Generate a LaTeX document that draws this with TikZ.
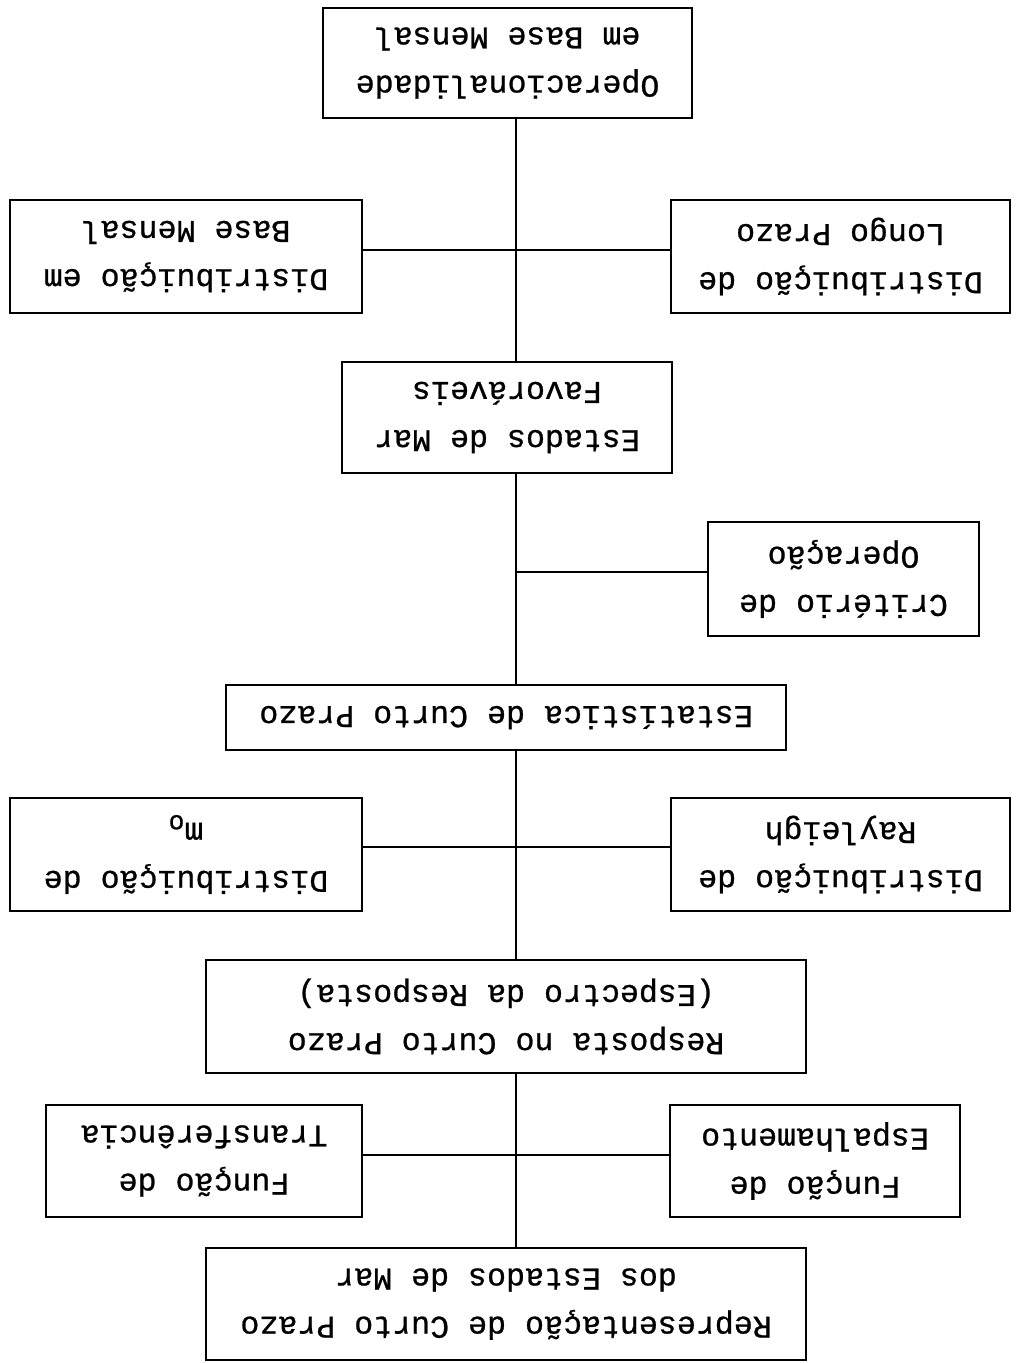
\documentclass[tikz,border=0pt]{standalone}
\usepackage{fontspec}
\newfontfamily\letra[FakeBold=0.8]{Liberation Mono}
\usepackage{tikz}

\newcommand{\indice}[1]{\raisebox{-0.45ex}{\fontsize{7.5}{8}\selectfont #1}}

\begin{document}
\begin{tikzpicture}[
    caixa/.style={draw, line width=0.7pt, rotate=180, align=center, inner sep=0pt,
      font=\letra\fontsize{9}{13.7}\selectfont},
    liga/.style={line width=0.6pt}]
        \useasboundingbox (0, 0) rectangle (10.2, -13.63);
        \coordinate (tronco) at (5.16, 0);

        % coluna central
        \node[caixa, minimum width=3.69cm, minimum height=1.10cm] (ops) at (5.075, -0.63)
          {Operacionalidade\\em Base Mensal};
        \node[caixa, minimum width=3.30cm, minimum height=1.11cm] (emf) at (5.07, -4.175)
          {Estados de Mar\\Favoráveis};
        \node[caixa, minimum width=5.60cm, minimum height=0.65cm] (ecp) at (5.06, -7.175)
          {Estatística de Curto Prazo};
        \node[caixa, minimum width=6.00cm, minimum height=1.13cm] (rcp) at (5.06, -10.165)
          {Resposta no Curto Prazo\\(Espectro da Resposta)};
        \node[caixa, minimum width=6.00cm, minimum height=1.12cm] (rep) at (5.06, -13.04)
          {Representação de Curto Prazo\\dos Estados de Mar};

        % caixas laterais
        \node[caixa, minimum width=3.52cm, minimum height=1.13cm] (dbm) at (1.86, -2.565)
          {Distribuição em\\Base Mensal};
        \node[caixa, minimum width=3.39cm, minimum height=1.13cm] (dlp) at (8.405, -2.565)
          {Distribuição de\\Longo Prazo};
        \node[caixa, minimum width=2.71cm, minimum height=1.14cm] (crit) at (8.435, -5.79)
          {Critério de\\Operação};
        \node[caixa, minimum width=3.52cm, minimum height=1.13cm] (dmo) at (1.86, -8.545)
          {Distribuição de\\m\indice{o}};
        \node[caixa, minimum width=3.39cm, minimum height=1.13cm] (dry) at (8.405, -8.545)
          {Distribuição de\\Rayleigh};
        \node[caixa, minimum width=3.16cm, minimum height=1.12cm] (ftr) at (2.04, -11.61)
          {Função de\\Transferência};
        \node[caixa, minimum width=2.90cm, minimum height=1.12cm] (fes) at (8.15, -11.61)
          {Função de\\Espalhamento};

        \draw[liga] (ops.north -| tronco) -- (emf.south -| tronco)
          (emf.north -| tronco) -- (ecp.south -| tronco)
          (ecp.north -| tronco) -- (rcp.south -| tronco)
          (rcp.north -| tronco) -- (rep.south -| tronco);

        \draw[liga] ([yshift=0.065cm]dbm.west) -- ([yshift=0.065cm]dlp.east);
        \draw[liga] ([yshift=0.075cm]dmo.west) -- ([yshift=0.075cm]dry.east);
        \draw[liga] ([yshift=0.06cm]ftr.west) -- ([yshift=0.06cm]fes.east);

        \path ([yshift=0.07cm]crit.east) coordinate (c1);
        \draw[liga] (c1) -- (c1 -| tronco);
      \end{tikzpicture}
\end{document}
